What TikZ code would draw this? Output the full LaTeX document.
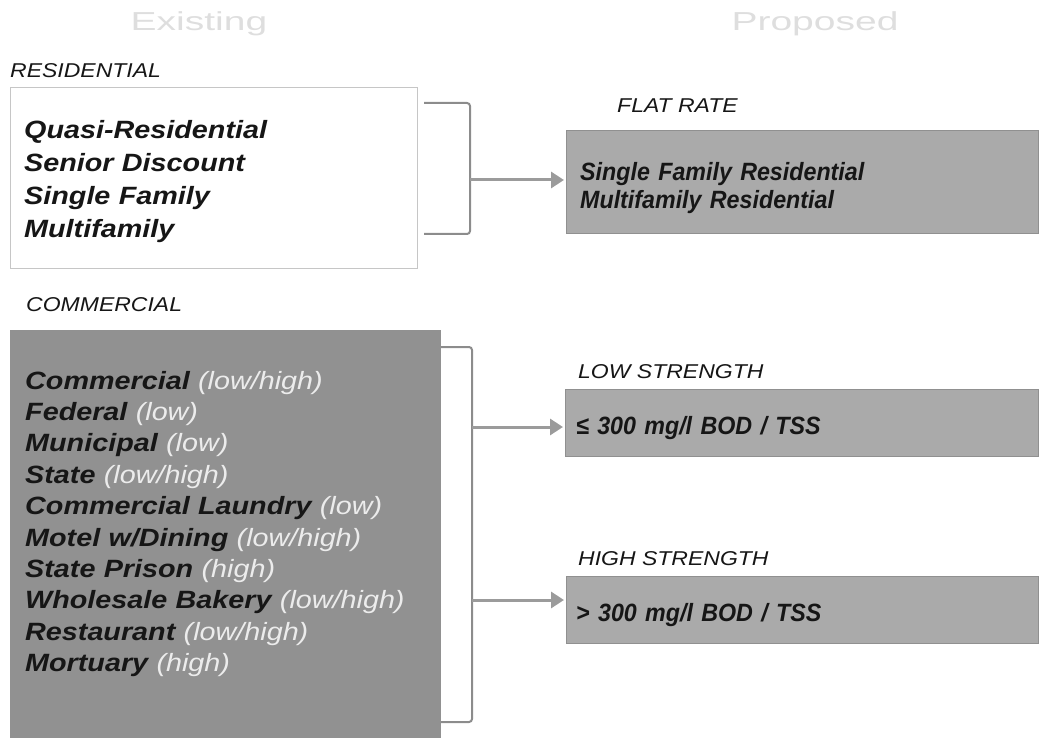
\documentclass[tikz,border=0pt]{standalone}
\usepackage{fontspec}
\setmainfont{Liberation Sans}
\newfontfamily\wideface[FakeStretch=1.15]{Liberation Sans}
\newfontfamily\panelface[FakeStretch=0.93]{Liberation Sans}
\newfontfamily\headface[FakeStretch=1.5]{Liberation Sans}
\usetikzlibrary{arrows.meta}

\definecolor{darkfill}{RGB}{145,145,145}
\definecolor{panelfill}{RGB}{170,170,170}
\definecolor{linegray}{RGB}{140,140,140}
\definecolor{arrowgray}{RGB}{155,155,155}
\definecolor{ink}{RGB}{22,22,22}
\definecolor{softwhite}{RGB}{236,236,236}
\definecolor{headgray}{RGB}{222,222,222}

% load level behind a commercial class
\newcommand{\lvltag}[1]{{\mdseries\color{softwhite}(#1)}}

\begin{document}
\begin{tikzpicture}[x=1pt, y=-1pt,
    heading/.style={font=\headface\fontsize{26}{26}\selectfont, text=headgray},
    tag/.style={font=\wideface\fontsize{20}{20}\selectfont\itshape, text=ink,
      anchor=base west, inner sep=0pt},
    listtext/.style={font=\wideface\fontsize{25}{#1}\selectfont\bfseries\itshape,
      text=ink, align=left, text width=400, anchor=base west, inner sep=0pt},
    paneltext/.style={font=\panelface\fontsize{25}{#1}\selectfont\bfseries\itshape,
      text=ink, align=left, text width=440, anchor=base west, inner sep=0pt},
    whitebox/.style={draw=gray!45, fill=white, anchor=north west,
      inner sep=0pt, outer sep=0pt},
    darkbox/.style={fill=darkfill, anchor=north west, inner sep=0pt, outer sep=0pt},
    panelbox/.style={fill=panelfill, draw=panelfill!85!black, line width=0.8,
      anchor=north west, inner sep=0pt, outer sep=0pt},
    bracket/.style={draw=linegray, line width=2, rounded corners=3},
    flow/.style={draw=arrowgray, line width=3, shorten >=2,
      -{Triangle[length=13, width=16]}}]
  \useasboundingbox (0,0) rectangle (1039,738);

  % column headings
  \node[heading] (existhead) at (199,24) {Existing};
  \node[heading] (prophead) at (815,24) {Proposed};

  % existing classes
  \node[tag] (restag) at (10,78) {RESIDENTIAL};
  \node[whitebox, minimum width=407, minimum height=181] (res) at (10,87) {};
  \node[listtext=33] (reslist) at (24,139)
    {Quasi-Residential\\Senior Discount\\Single Family\\Multifamily};

  \node[tag] (comtag) at (26,311) {COMMERCIAL};
  \node[darkbox, minimum width=431, minimum height=408] (com) at (10,330) {};
  \node[listtext=31.4] (comlist) at (25,389)
    {Commercial \lvltag{low/high}\\
     Federal \lvltag{low}\\
     Municipal \lvltag{low}\\
     State \lvltag{low/high}\\
     Commercial Laundry \lvltag{low}\\
     Motel w/Dining \lvltag{low/high}\\
     State Prison \lvltag{high}\\
     Wholesale Bakery \lvltag{low/high}\\
     Restaurant \lvltag{low/high}\\
     Mortuary \lvltag{high}};

  % proposed classes
  \node[tag] (flattag) at (617,113) {FLAT RATE};
  \node[panelbox, minimum width=472, minimum height=103] (flat) at (566,130) {};
  \node[paneltext=28] (flattext) at (580,181)
    {Single Family Residential\\Multifamily Residential};

  \node[tag] (lowtag) at (578,378) {LOW STRENGTH};
  \node[panelbox, minimum width=473, minimum height=67] (low) at (565,389) {};
  \node[paneltext=28] (lowtext) at (576,434) {≤ 300 mg/l BOD / TSS};

  \node[tag] (hightag) at (578,565) {HIGH STRENGTH};
  \node[panelbox, minimum width=472, minimum height=67] (high) at (566,576) {};
  \node[paneltext=28] (hightext) at (576,621) {> 300 mg/l BOD / TSS};

  % brackets and arrows
  \coordinate (restop) at (424,103);
  \coordinate (resbot) at (424,234);
  \coordinate (resjoin) at (470,180);
  \draw[bracket] (restop) -| (resjoin) |- (resbot);
  \draw[flow] (resjoin) -- (resjoin -| flat.west);

  \coordinate (comtop) at (441,347);
  \coordinate (combot) at (441,722);
  \coordinate (lowjoin) at (472,427);
  \coordinate (highjoin) at (472,600);
  \draw[bracket] (comtop) -| (highjoin) |- (combot);
  \draw[flow] (lowjoin) -- (lowjoin -| low.west);
  \draw[flow] (highjoin) -- (highjoin -| high.west);
\end{tikzpicture}
\end{document}
